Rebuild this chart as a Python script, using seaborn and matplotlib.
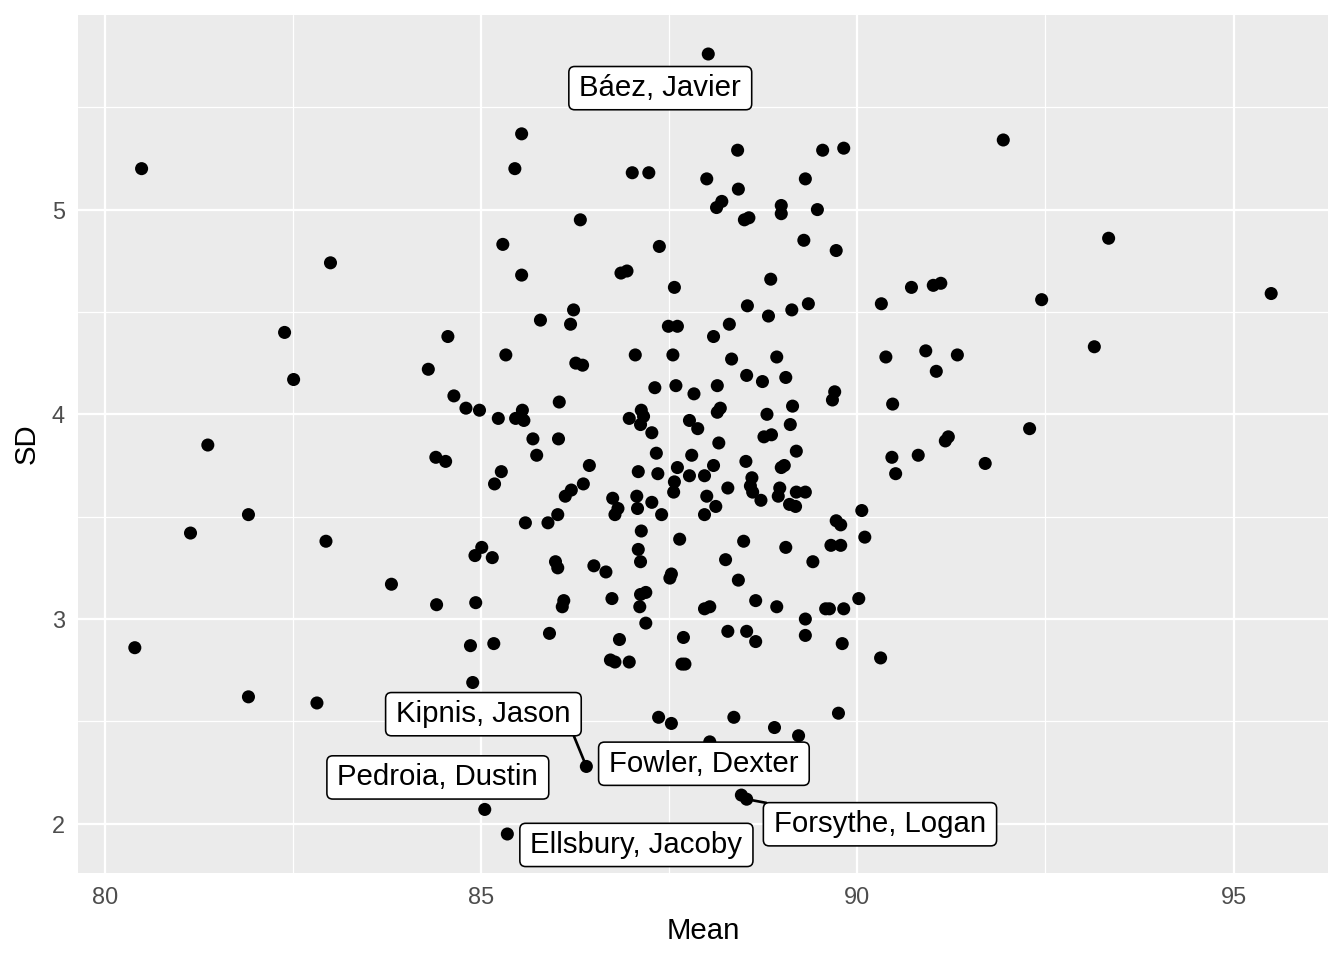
import matplotlib
matplotlib.use("Agg")
import matplotlib.pyplot as plt
from matplotlib.patches import BoxStyle
from matplotlib.ticker import MultipleLocator
import seaborn as sns
import pandas as pd

# ---- data: labelled players first, then the rest ----
label_names = ["Báez, Javier", "Kipnis, Jason", "Fowler, Dexter",
               "Forsythe, Logan", "Pedroia, Dustin", "Ellsbury, Jacoby"]

mean_vals = [
    88.02, 86.40, 88.04, 88.53, 85.05, 85.35,
    91.94, 85.54, 80.49, 85.45, 87.01, 87.23, 88.00, 88.41, 89.54, 89.82,
    89.31, 88.42, 88.20, 88.13, 86.32, 89.47, 88.99, 88.99, 88.56, 88.50,
    85.29, 89.29, 93.34, 87.37, 89.72, 83.00, 85.54, 86.94, 86.86, 87.57,
    88.85, 90.72, 91.01, 91.11, 95.50, 92.45, 88.54, 89.35, 89.13, 90.32,
    86.23, 88.82, 85.79, 86.19, 88.30, 87.49, 87.61, 82.39, 84.56, 88.09,
    93.15, 90.91, 85.33, 87.05, 87.55, 91.33, 90.38, 88.33, 88.93, 84.30,
    86.26, 86.35, 91.05, 88.53, 82.51, 88.74, 89.05, 88.14, 87.59, 87.31,
    89.70, 89.67, 87.83, 84.64, 90.47, 86.04, 84.98, 84.80, 85.55, 88.18,
    88.14, 89.14, 87.13, 87.16, 85.23, 85.46, 85.57, 88.80, 86.97, 87.12,
    87.77, 87.88, 89.11, 87.27, 85.69, 86.03, 88.86, 88.76, 88.16, 81.37,
    92.29, 91.21, 91.17, 89.19, 87.33, 85.74, 84.40, 84.53, 91.70, 87.80,
    90.81, 90.46, 88.52, 89.03, 88.99, 86.44, 87.61, 88.09, 87.09, 85.27,
    87.35, 90.51, 87.97, 87.77, 87.57, 86.36, 85.18, 86.20, 88.28, 88.60,
    88.58, 88.61, 88.97, 89.31, 89.19, 86.12, 87.56, 86.75, 88.00, 87.07,
    88.72, 88.95, 86.82, 86.78, 87.27, 88.12, 87.08, 89.18, 89.10, 87.40,
    87.97, 86.02, 90.06, 89.72, 89.78, 85.59, 85.89, 87.13, 90.10, 81.14,
    87.64, 81.91, 82.94, 88.49, 85.01, 84.92, 89.65, 89.78, 89.05, 87.09,
    85.15, 89.41, 88.25, 85.99, 86.02, 86.50, 86.66, 87.12, 88.42, 87.53,
    87.51, 83.81, 84.93, 86.74, 87.19, 87.12, 87.11, 90.02, 86.10, 86.08,
    84.41, 88.04, 87.97, 88.65, 88.93, 89.58, 89.63, 89.82, 89.31, 87.19,
    89.31, 88.28, 88.53, 85.17, 85.91, 86.84, 87.69, 88.65, 89.80, 84.86,
    80.40, 86.72, 86.78, 86.97, 87.67, 87.71, 90.31, 84.89, 81.91, 82.82,
    89.75, 87.36, 87.53, 88.36, 88.90, 89.22, 88.46,
]

sd_vals = [
    5.76, 2.28, 2.40, 2.12, 2.07, 1.95,
    5.34, 5.37, 5.20, 5.20, 5.18, 5.18, 5.15, 5.29, 5.29, 5.30,
    5.15, 5.10, 5.04, 5.01, 4.95, 5.00, 5.02, 4.98, 4.96, 4.95,
    4.83, 4.85, 4.86, 4.82, 4.80, 4.74, 4.68, 4.70, 4.69, 4.62,
    4.66, 4.62, 4.63, 4.64, 4.59, 4.56, 4.53, 4.54, 4.51, 4.54,
    4.51, 4.48, 4.46, 4.44, 4.44, 4.43, 4.43, 4.40, 4.38, 4.38,
    4.33, 4.31, 4.29, 4.29, 4.29, 4.29, 4.28, 4.27, 4.28, 4.22,
    4.25, 4.24, 4.21, 4.19, 4.17, 4.16, 4.18, 4.14, 4.14, 4.13,
    4.11, 4.07, 4.10, 4.09, 4.05, 4.06, 4.02, 4.03, 4.02, 4.03,
    4.01, 4.04, 4.02, 3.99, 3.98, 3.98, 3.97, 4.00, 3.98, 3.95,
    3.97, 3.93, 3.95, 3.91, 3.88, 3.88, 3.90, 3.89, 3.86, 3.85,
    3.93, 3.89, 3.87, 3.82, 3.81, 3.80, 3.79, 3.77, 3.76, 3.80,
    3.80, 3.79, 3.77, 3.75, 3.74, 3.75, 3.74, 3.75, 3.72, 3.72,
    3.71, 3.71, 3.70, 3.70, 3.67, 3.66, 3.66, 3.63, 3.64, 3.69,
    3.65, 3.62, 3.64, 3.62, 3.62, 3.60, 3.62, 3.59, 3.60, 3.60,
    3.58, 3.60, 3.54, 3.51, 3.57, 3.55, 3.54, 3.55, 3.56, 3.51,
    3.51, 3.51, 3.53, 3.48, 3.46, 3.47, 3.47, 3.43, 3.40, 3.42,
    3.39, 3.51, 3.38, 3.38, 3.35, 3.31, 3.36, 3.36, 3.35, 3.34,
    3.30, 3.28, 3.29, 3.28, 3.25, 3.26, 3.23, 3.28, 3.19, 3.22,
    3.20, 3.17, 3.08, 3.10, 3.13, 3.12, 3.06, 3.10, 3.09, 3.06,
    3.07, 3.06, 3.05, 3.09, 3.06, 3.05, 3.05, 3.05, 3.00, 2.98,
    2.92, 2.94, 2.94, 2.88, 2.93, 2.90, 2.91, 2.89, 2.88, 2.87,
    2.86, 2.80, 2.79, 2.79, 2.78, 2.78, 2.81, 2.69, 2.62, 2.59,
    2.54, 2.52, 2.49, 2.52, 2.47, 2.43, 2.14,
]

x_ticks = [80, 85, 90, 95]
y_ticks = [2, 3, 4, 5]

# label placement (offset of label centre from its point, in points) - layout only
label_offsets = [(-18, -12.8), (-38.6, 19.6), (-2.2, -8.2),
                 (50.0, -9.4), (-17.6, 12.0), (48.4, -4.1)]
label_segment = [False, True, False, True, False, False]
segment_start = [(0.5, 0.5), (1.0, 0.0), (0.5, 0.5),
                 (0.5, 0.5), (0.5, 0.5), (0.5, 0.5)]

df = pd.DataFrame({"Mean": mean_vals, "SD": sd_vals})

sns.set_theme(style="darkgrid")
plt.rcParams["font.family"] = ["Liberation Sans", "DejaVu Sans"]

fig = plt.figure(figsize=(7, 5), dpi=192)
ax = fig.add_axes([78 / 1344, 1 - 873 / 960, (1328 - 78) / 1344, (873 - 15) / 960])
ax.set_facecolor("#EBEBEB")
for sp in ax.spines.values():
    sp.set_visible(False)

sns.scatterplot(data=df, x="Mean", y="SD", ax=ax, color="black", s=24,
                edgecolor="none", linewidth=0, zorder=3)

xr = (min(mean_vals), max(mean_vals))
yr = (min(sd_vals), max(sd_vals))
ex, ey = 0.05 * (xr[1] - xr[0]), 0.05 * (yr[1] - yr[0])
ax.set_xlim(xr[0] - ex, xr[1] + ex)
ax.set_ylim(yr[0] - ey, yr[1] + ey)

ax.set_xticks(x_ticks)
ax.set_yticks(y_ticks)
ax.xaxis.set_minor_locator(MultipleLocator(2.5))
ax.yaxis.set_minor_locator(MultipleLocator(0.5))
ax.grid(which="major", color="white", linewidth=0.85)
ax.grid(which="minor", color="white", linewidth=0.45)
ax.set_axisbelow(True)
ax.tick_params(which="major", length=2.75, width=0.8, color="#333333",
               labelsize=8.8, labelcolor="#4D4D4D", pad=2.2)
ax.tick_params(which="minor", length=0)
ax.set_xlabel("Mean", fontsize=11, color="black", labelpad=3)
ax.set_ylabel("SD", fontsize=11, color="black", labelpad=4)


def label_box(x0, y0, width, height, mutation_size):
    padx = 0.36 * mutation_size
    pady = 0.26 * mutation_size
    rs = BoxStyle.Round(pad=0, rounding_size=0.2)
    return rs(x0 - padx, y0 - pady, width + 2 * padx, height + 2 * pady, mutation_size)


for i, name in enumerate(label_names):
    arrow = dict(arrowstyle="-", color="black", lw=1.0, shrinkA=0, shrinkB=0,
                 relpos=segment_start[i]) if label_segment[i] else None
    ax.annotate(name, xy=(mean_vals[i], sd_vals[i]), xytext=label_offsets[i],
                textcoords="offset points", ha="center", va="center",
                fontsize=11, color="black", zorder=5,
                bbox=dict(boxstyle=label_box, fc="white", ec="black", lw=0.6),
                arrowprops=arrow)

fig.savefig("out.png", dpi=192)
